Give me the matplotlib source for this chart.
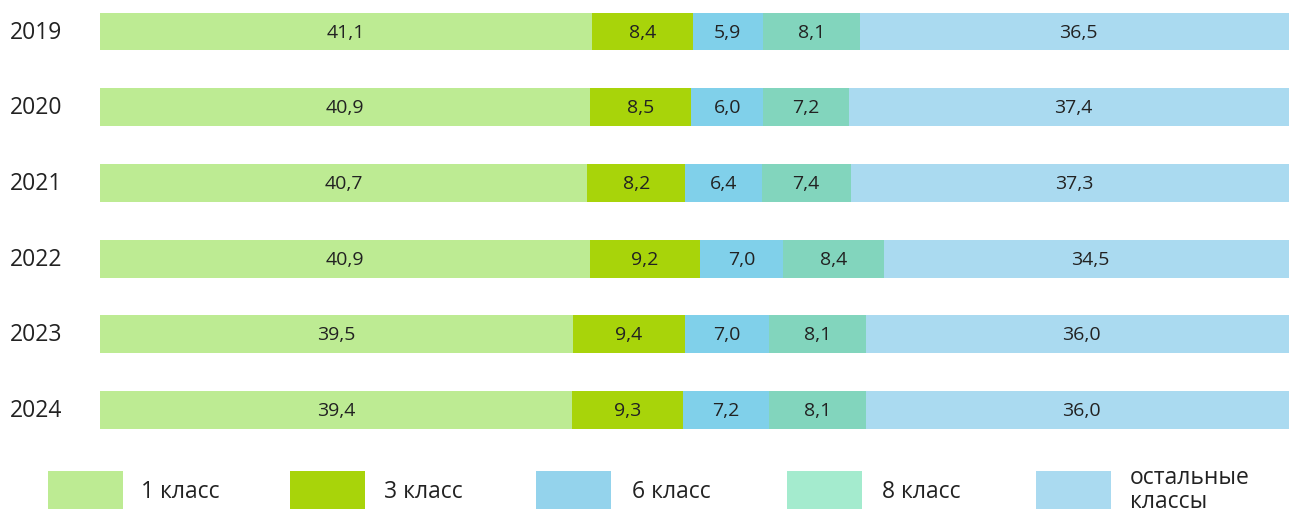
import matplotlib
matplotlib.use("Agg")
import matplotlib.pyplot as plt
from matplotlib.patches import Rectangle
from matplotlib.transforms import blended_transform_factory
import numpy as np

years = ["2019", "2020", "2021", "2022", "2023", "2024"]
series_names = ["1 класс", "3 класс", "6 класс", "8 класс", "остальные\nклассы"]
class1 = [41.1, 40.9, 40.7, 40.9, 39.5, 39.4]
class3 = [8.4, 8.5, 8.2, 9.2, 9.4, 9.3]
class6 = [5.9, 6.0, 6.4, 7.0, 7.0, 7.2]
class8 = [8.1, 7.2, 7.4, 8.4, 8.1, 8.1]
others = [36.5, 37.4, 37.3, 34.5, 36.0, 36.0]

bar_colors = ["#BDEB93", "#A8D40A", "#80D0EA", "#82D5BD", "#AADAF0"]
legend_colors = ["#BDEB93", "#A8D40A", "#94D3EC", "#A4EBCE", "#AADAF0"]
text_color = "#222222"

plt.rcParams['font.family'] = ['Open Sans', 'DejaVu Sans']

W, H = 1289, 510
fig = plt.figure(figsize=(W / 100, H / 100), dpi=100)
ax = fig.add_axes([100 / W, 1 - 448.8 / H, 1 - 100 / W, 448.8 / H])

series = [class1, class3, class6, class8, others]
y = np.arange(len(years))
left = np.zeros(len(years))
for vals, col in zip(series, bar_colors):
    vals = np.array(vals)
    ax.barh(y, vals, left=left, height=0.5, color=col, edgecolor='none')
    for yi, l, v in zip(y, left, vals):
        ax.text(l + v / 2, yi, f"{v:.1f}".replace(".", ","), ha='center', va='center',
                fontsize=14, color=text_color, clip_on=False)
    left = left + vals

ax.set_xlim(0, 1189 / 11.97)
ax.set_ylim(5.5, -0.43)
ax.axis('off')

tr = blended_transform_factory(fig.transFigure, ax.transData)
for yi, yr in zip(y, years):
    ax.text(10 / W, yi, yr, transform=tr, ha='left', va='center', fontsize=16.5, color=text_color)

# legend
patch_x = [48, 290, 536, 787, 1036]
text_x = [141, 384, 632, 882, 1130]
for px, tx, col, name in zip(patch_x, text_x, legend_colors, series_names):
    fig.add_artist(Rectangle((px / W, 1 - 510 / H), 75 / W, 38 / H, transform=fig.transFigure,
                             facecolor=col, edgecolor='none'))
    if "\n" in name:
        fig.text(tx / W, 1 - 490 / H, name, ha='left', va='center', fontsize=16.5,
                 color=text_color, linespacing=1.05)
    else:
        fig.text(tx / W, 1 - 492 / H, name, ha='left', va='center', fontsize=16.5, color=text_color)

fig.savefig("out.png", dpi=100)
